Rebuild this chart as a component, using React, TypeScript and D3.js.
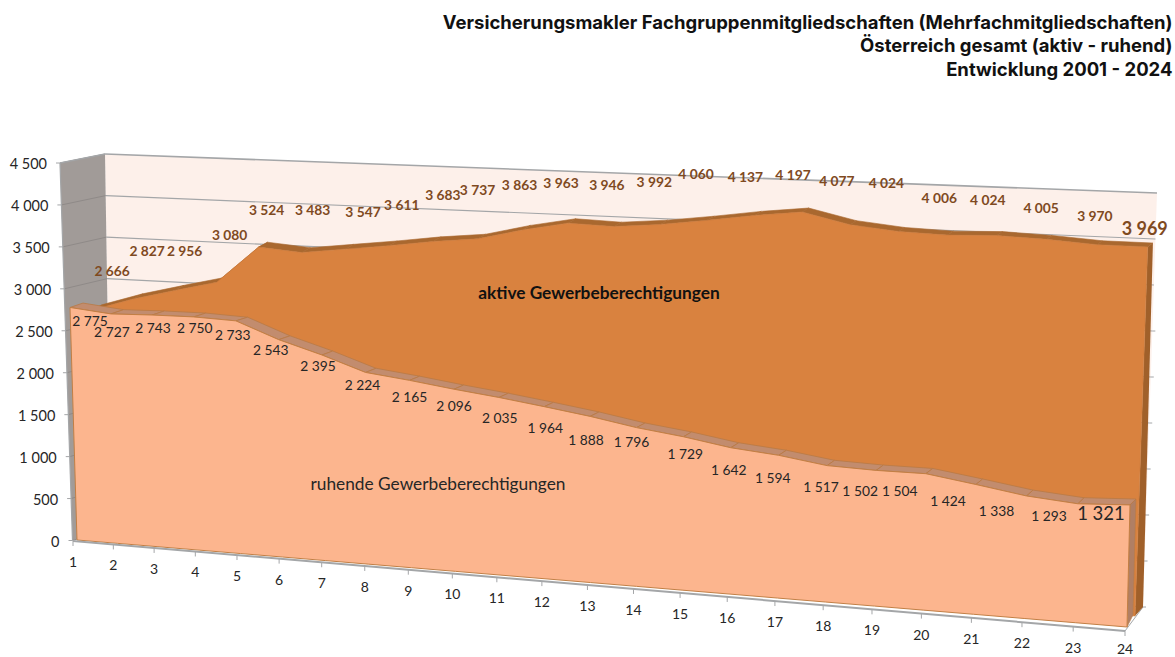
import React from "react";
import * as d3 from "d3";

const W = 1175;
const H = 657;

// ---- data ----
const categories = d3.range(1, 25).map(String);
const aktive = [2666, 2827, 2956, 3080, 3524, 3483, 3547, 3611, 3683, 3737, 3863, 3963, 3946, 3992, 4060, 4137, 4197, 4077, 4024, 4006, 4024, 4005, 3970, 3969];
const ruhende = [2775, 2727, 2743, 2750, 2733, 2543, 2395, 2224, 2165, 2096, 2035, 1964, 1888, 1796, 1729, 1642, 1594, 1517, 1502, 1504, 1424, 1338, 1293, 1321];
const yTicks = [0, 500, 1000, 1500, 2000, 2500, 3000, 3500, 4000, 4500];
const titleLines = [
  "Versicherungsmakler Fachgruppenmitgliedschaften (Mehrfachmitgliedschaften)",
  "Österreich gesamt (aktiv - ruhend)",
  "Entwicklung 2001 - 2024",
];

// ---- layout: hand-placed data label offsets from each point ----
const aktiveLabelDx = [20, 14, 10, 13, 8, 11, 18, 13, 10, 0, -3, -7, -7, -6, -11, -9, -9, -13, -12, -8, -9, -5.5, -2, -3];
const aktiveLabelDy = [-40, -48, -40, -48, -38, -43, -38, -41, -47, -49, -45, -41, -42, -43, -47, -39, -37, -44, -49, -38, -36, -32, -29, -19];
const ruhendeLabelDx = [20, 1, 1, 1, -3, -8, -4, -3, 0, 0, 1, 1, -4, -5, 2, -2, -6, -6, -16, -26, -28, -30, -29, -29];
const ruhendeLabelDy = [13.5, 18, 12, 11, 14, 9.5, 11, 12.5, 15.7, 16.7, 19.6, 21.3, 23.6, 14.3, 16.3, 21.3, 22.6, 20.4, 20.6, 17.3, 15.5, 15, 12, 8];

type PlaneCfg = { xL: number; xR: number; yL: number; yR: number; kL: number; kR: number; leanL: number; leanR: number; w: number };

// perspective plane: index -> fraction s along the plane, then linear scales for each parameter
function plane(c: PlaneCfg) {
  const u = d3.scaleLinear().domain([0, categories.length - 1]).range([0, 1]);
  const base = d3.scaleLinear().domain([0, 1]).range([c.xL, c.xR]);
  const baseY = d3.scaleLinear().domain([0, 1]).range([c.yL, c.yR]);
  const k = d3.scaleLinear().domain([0, 1]).range([c.kL, c.kR]);
  const lean = d3.scaleLinear().domain([0, 1]).range([c.leanL, c.leanR]);
  return (i: number, v: number): [number, number] => {
    const t = u(i);
    const s = t / (t + c.w * (1 - t));
    return [base(s) + v * lean(s), baseY(s) - v * k(s)];
  };
}

const axisFront = plane({ xL: 73, xR: 1125, yL: 541, yR: 631, kL: 0, kR: 0, leanL: 0, leanR: 0, w: 1.14 });
const ruhFront = plane({ xL: 77, xR: 1127, yL: 540, yR: 627, kL: 0.0838, kR: 0.0924, leanL: -0.00252, leanR: 0.00227, w: 1.14 });
const ruhBack = plane({ xL: 86, xR: 1133, yL: 532, yR: 615, kL: 0.0825, kR: 0.0878, leanL: -0.00108, leanR: 0.00227, w: 1.14 });
const aktFront = plane({ xL: 98, xR: 1135, yL: 530, yR: 616, kL: 0.0825, kR: 0.093, leanL: -0.0022, leanR: 0.0032, w: 1.11 });
const aktBack = plane({ xL: 107, xR: 1143, yL: 524, yR: 607, kL: 0.0822, kR: 0.0917, leanL: -0.002, leanR: 0.0025, w: 1.11 });
const wall = plane({ xL: 111, xR: 1143, yL: 528, yR: 607, kL: 0.0831, kR: 0.092, leanL: -0.00133, leanR: 0.00311, w: 1.1 });

const axisY = d3.scaleLinear().domain([0, 4500]).range([540.5, 163]);
const axisX = d3.scaleLinear().domain([0, 4500]).range([72.5, 60]);

const fmt = (v: number) => {
  const s = String(v);
  return s.length > 3 ? s.slice(0, -3) + " " + s.slice(-3) : s;
};
const poly = d3.line<[number, number]>().curve(d3.curveLinearClosed);
const open = d3.line<[number, number]>();
const last = categories.length - 1;

function frontPath(p: ReturnType<typeof plane>, vals: number[]) {
  const top = vals.map((v, i) => p(i, v));
  const bottom = vals.map((_, i) => p(last - i, 0));
  return poly([...top, ...bottom]) as string;
}

const GRID = "#a4a6a8";
const FONT = "Lato, Carlito, Calibri, sans-serif";

export default function App() {
  return (
    <svg width={W} height={H} style={{ position: "absolute", left: 0, top: 0, display: "block", background: "#fff" }} fontFamily={FONT}>
      {/* back wall */}
      <path d={poly([wall(0, 4500), wall(last, 4500), wall(last, 0), wall(0, 0)]) as string} fill="#fdf0ea" />
      {/* side wall */}
      <path d={poly([[axisX(4500), axisY(4500)], wall(0, 4500), wall(0, 0), [axisX(0), axisY(0)]]) as string} fill="#a19b98" />
      {/* floor */}
      <path d={open([axisFront(last, 0), wall(last, 0)]) as string} stroke={GRID} strokeWidth={1} fill="none" />
      {/* gridlines */}
      {yTicks.map((t) => (
        <g key={t}>
          <path d={open([wall(0, t), wall(last, t)]) as string} stroke={GRID} strokeWidth={t === 4500 ? 1.6 : 1.2} fill="none" />
          <path d={open([[axisX(t), axisY(t)], wall(0, t)]) as string} stroke="#8f8a88" strokeWidth={1} fill="none" />
          <path d={open([[axisX(t) - 4, axisY(t)], [axisX(t), axisY(t)]]) as string} stroke={GRID} strokeWidth={1} fill="none" />
          <text x={axisX(t) - 13} y={axisY(t) + 0.5} textAnchor="end" dominantBaseline="central" fontSize={14.5} fill="#262626">
            {fmt(t)}
          </text>
        </g>
      ))}
      <path d={open([[axisX(4500), axisY(4500)], [axisX(0), axisY(0)]]) as string} stroke={GRID} strokeWidth={1.2} fill="none" />
      <path d={open([[axisX(4500), axisY(4500)], wall(0, 4500)]) as string} stroke={GRID} strokeWidth={1.4} fill="none" />
      {/* right-hand wall tick stubs */}
      {yTicks.slice(0, 7).map((t) => (
        <path key={t} d={open([wall(last, t), [wall(last, t)[0] + 3, wall(last, t)[1]]]) as string} stroke={GRID} strokeWidth={1} fill="none" />
      ))}

      {/* aktive: top band, right side, front */}
      {aktive.slice(0, -1).map((v, i) => (
        <path
          key={i}
          d={poly([aktFront(i, v), aktFront(i + 1, aktive[i + 1]), aktBack(i + 1, aktive[i + 1]), aktBack(i, v)]) as string}
          fill="#a9682f"
          stroke="#a9682f"
          strokeWidth={0.6}
        />
      ))}
      <path d={poly([aktFront(last, aktive[last]), aktBack(last, aktive[last]), aktBack(last, 0), aktFront(last, 0)]) as string} fill="#a0602a" />
      <path d={frontPath(aktFront, aktive)} fill="#d9823f" stroke="#c9793a" strokeWidth={0.6} />

      {/* ruhende: top band, right side, front */}
      {ruhende.slice(0, -1).map((v, i) => (
        <path
          key={i}
          d={poly([ruhFront(i, v), ruhFront(i + 1, ruhende[i + 1]), ruhBack(i + 1, ruhende[i + 1]), ruhBack(i, v)]) as string}
          fill="#c28c6e"
          stroke="#b97a45"
          strokeWidth={0.8}
        />
      ))}
      <path d={poly([ruhFront(last, ruhende[last]), ruhBack(last, ruhende[last]), ruhBack(last, 0), ruhFront(last, 0)]) as string} fill="#b07f64" stroke="#b97a45" strokeWidth={0.6} />
      <path d={frontPath(ruhFront, ruhende)} fill="#fcb58e" stroke="#c27f45" strokeWidth={1} />

      {/* x axis */}
      <path d={open([axisFront(0, 0), axisFront(last, 0)]) as string} stroke={GRID} strokeWidth={2} fill="none" />
      {categories.map((c, i) => {
        const [x, y] = axisFront(i, 0);
        return (
          <g key={c}>
            <path d={open([[x, y], [x, y + 5]]) as string} stroke={GRID} strokeWidth={1} fill="none" />
            <text x={x} y={Math.min(y + 20.5, H - 8.5)} textAnchor="middle" dominantBaseline="central" fontSize={14} fill="#262626">
              {c}
            </text>
          </g>
        );
      })}

      {/* data labels */}
      {aktive.map((v, i) => {
        const [x, y] = aktFront(i, v);
        return (
          <text key={i} x={x + aktiveLabelDx[i]} y={y + aktiveLabelDy[i]} textAnchor="middle" dominantBaseline="central" fontSize={i === last ? 18 : 13.8} fontWeight={700} fill="#7f4a1f">
            {fmt(v)}
          </text>
        );
      })}
      {ruhende.map((v, i) => {
        const [x, y] = ruhFront(i, v);
        return (
          <text key={i} x={x + ruhendeLabelDx[i]} y={y + ruhendeLabelDy[i]} textAnchor="middle" dominantBaseline="central" fontSize={i === last ? 18.5 : 13.8} fill="#262626">
            {fmt(v)}
          </text>
        );
      })}

      {/* series names */}
      <text x={599} y={292} textAnchor="middle" dominantBaseline="central" fontSize={17.3} fontWeight={700} fill="#111">
        aktive Gewerbeberechtigungen
      </text>
      <text x={438} y={483} textAnchor="middle" dominantBaseline="central" fontSize={17.3} fill="#262626">
        ruhende Gewerbeberechtigungen
      </text>

      {/* title */}
      {titleLines.map((t, i) => (
        <text key={i} x={1172.5} y={22 + i * 23.3} textAnchor="end" dominantBaseline="central" fontFamily="Inter, sans-serif" fontSize={18.5} fontWeight={700} fill="#111">
          {t}
        </text>
      ))}
    </svg>
  );
}
